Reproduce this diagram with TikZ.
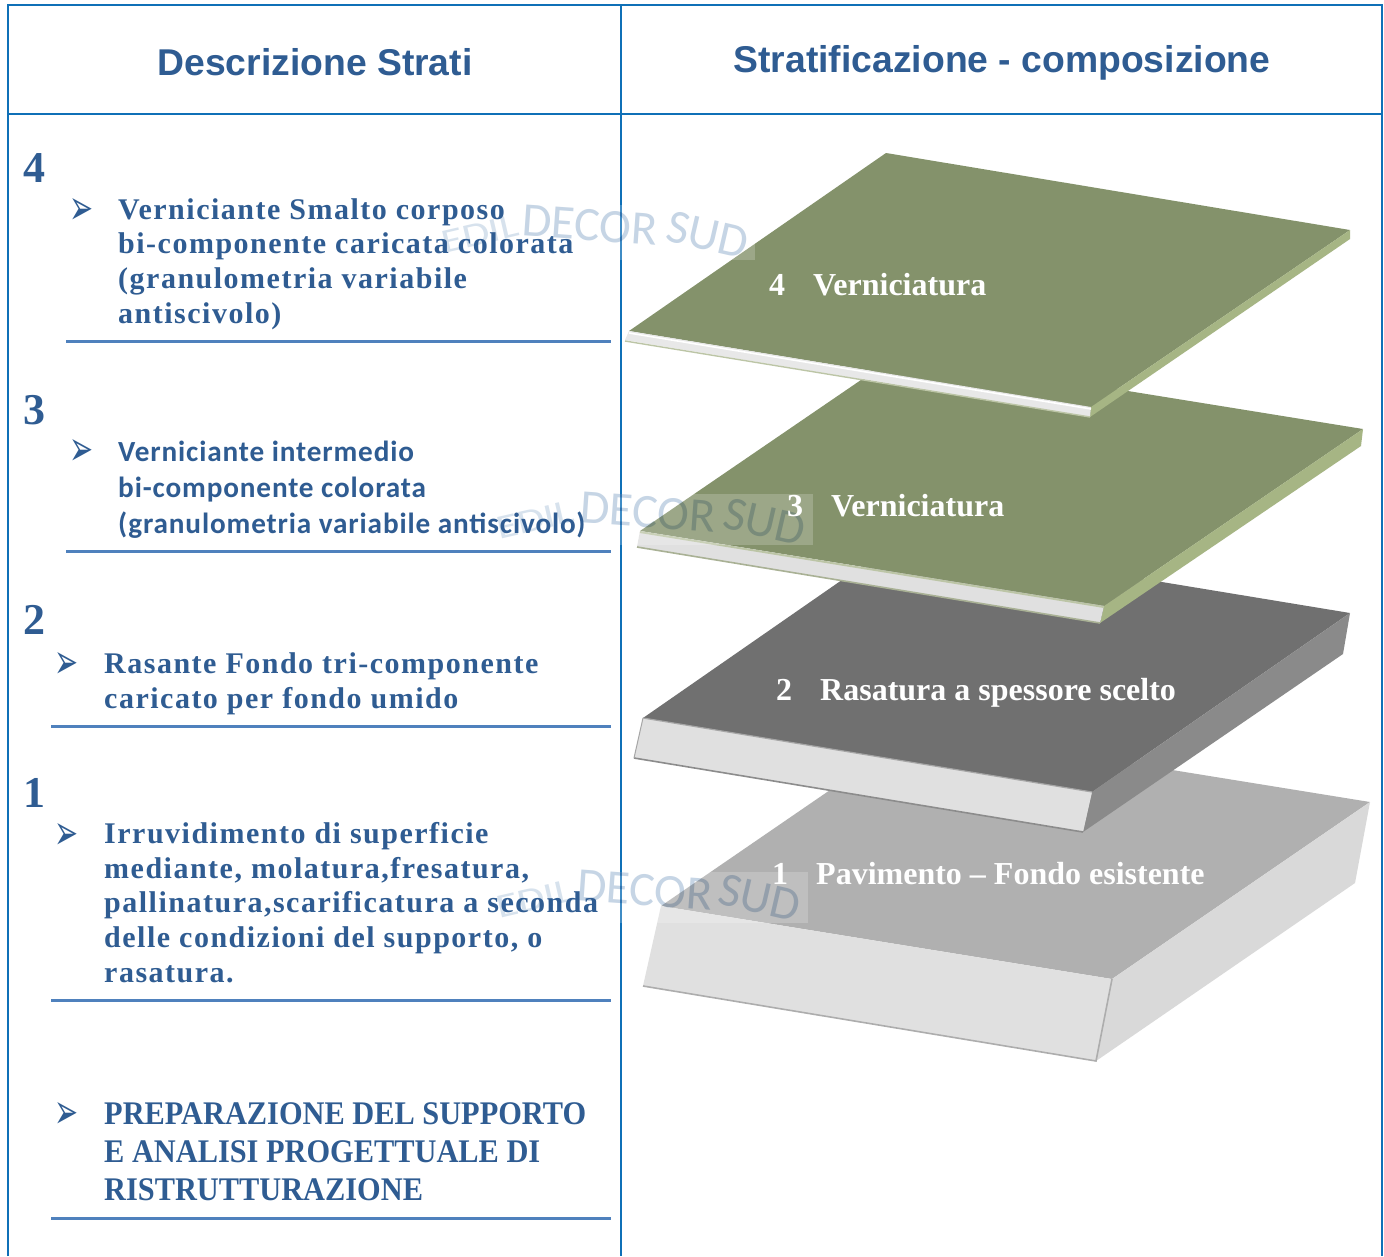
\documentclass[tikz,border=0pt]{standalone}
\usepackage{fontspec}
\setmainfont{Liberation Serif}
\newfontfamily\headfont{Liberation Sans}
\newfontfamily\bodyfont{Liberation Serif}[LetterSpace=5.0]
\newfontfamily\capsfont{Liberation Serif}[FakeStretch=0.92]
\newfontfamily\calfont{Carlito}[LetterSpace=3.0]
\newfontfamily\wmfont{Carlito}
\newfontfamily\dingfont{DejaVu Sans}
\definecolor{tableblue}{HTML}{0F70B7}
\definecolor{rulecol}{HTML}{4F81BD}
\definecolor{txtblue}{HTML}{2F5C92}
\definecolor{greentop}{HTML}{84926B}
\definecolor{greenside}{HTML}{A6B584}
\definecolor{greenedge}{HTML}{BCC5A6}
\definecolor{pale}{HTML}{E0E0E0}
\definecolor{wmcol}{HTML}{C6D5E5}
\newcommand{\arrowbul}{\scalebox{1.15}[1.95]{➢}}
\tikzset{
  tline/.style={draw=tableblue,line width=2pt},
  srule/.style={draw=rulecol,line width=3pt},
  head/.style={text=txtblue,inner sep=0pt,font=\headfont\bfseries\fontsize{37.3}{40}\selectfont},
  num/.style={text=txtblue,inner sep=0pt,anchor=base west,font=\bfseries\fontsize{44}{44}\selectfont},
  para/.style={text=txtblue,inner sep=0pt,anchor=base west,align=left,font=\bodyfont\bfseries\fontsize{30}{34.6}\selectfont},
  parac/.style={text=txtblue,inner sep=0pt,anchor=base west,align=left,font=\calfont\bfseries\fontsize{29.2}{36}\selectfont},
  parab/.style={text=txtblue,inner sep=0pt,anchor=base west,align=left,font=\capsfont\bfseries\fontsize{33}{38}\selectfont},
  bul/.style={text=txtblue,inner sep=0pt,anchor=base west,font=\dingfont\fontsize{25}{25}\selectfont},
  lab/.style={text=white,inner sep=0pt,anchor=base west,font=\bfseries\fontsize{32}{32}\selectfont},
  wmword/.style={text=wmcol,inner sep=0pt,font=\wmfont\fontsize{48}{48}\selectfont},
  wmedil/.style={text=wmcol!70,inner sep=0pt,rotate=13,font=\wmfont\fontsize{34}{34}\selectfont},
  patch/.style={fill=white,fill opacity=.2,draw=none},
}
\begin{document}
\begin{tikzpicture}[x=1pt,y=-1pt]
\useasboundingbox (0,0) rectangle (1384,1256);
\fill[white] (0,0) rectangle (1384,1256);
% plate 1
\fill[fill=black!31] (661,906) -- (919,729) -- (1370,802) -- (1112,979) -- cycle;
\fill[fill=pale!97!black] (1112,979) -- (1370,802) -- (1355,883) -- (1096,1061) -- cycle;
\fill[fill=pale] (661,906) -- (1112,979) -- (1096,1061) -- (643,986) -- cycle;
\draw[black!32,line width=1.6pt] (643,986) -- (1096,1061) -- (1112,979);
% plate 2
\fill[fill=black!56] (643,718) -- (901,539) -- (1350,613) -- (1092,792) -- cycle;
\fill[fill=black!46] (1092,792) -- (1350,613) -- (1343,654) -- (1083,832) -- cycle;
\fill[fill=pale] (643,718) -- (1092,792) -- (1083,832) -- (634,758) -- cycle;
\draw[black!45,line width=1.6pt] (634,758) -- (1083,832);
\draw[black!35,line width=1.2pt] (643,718) -- (1092,792);
\draw[black!35,line width=1pt] (643,718) -- (634,758);
% plate 3
\fill[fill=greentop] (640,531) -- (899,354) -- (1363,429) -- (1104,606) -- cycle;
\fill[fill=greenside] (1104,606) -- (1363,429) -- (1361,446) -- (1100,623) -- cycle;
\fill[fill=pale] (640,531) -- (1104,606) -- (1100,623) -- (637,547) -- cycle;
\draw[greenedge,line width=2pt] (640,532) -- (1104,607);
\draw[black!10!greenedge,line width=1.6pt] (637,547) -- (1100,623);
% plate 4
\fill[fill=greentop] (629,331) -- (886,153) -- (1350,230) -- (1091,407) -- cycle;
\fill[fill=greenside] (1091,407) -- (1350,230) -- (1350,239) -- (1090,417) -- cycle;
\fill[fill=black!9] (629,331) -- (1091,407) -- (1090,417) -- (625,340) -- cycle;
\draw[white,line width=1.6pt] (629,333) -- (1091,409);
\draw[greenedge,line width=1.4pt] (625,341) -- (1090,417);
% table
\draw[tline] (8,1256) -- (8,5) -- (1382,5) -- (1382,1256);
\draw[tline] (621,5) -- (621,1256);
\draw[tline] (8,114) -- (1382,114);
% watermarks
\fill[patch] (442,205) rectangle (755,260);
\fill[patch] (497,494) rectangle (813,545);
\fill[patch] (487,872) rectangle (808,923);
\begin{scope}[blend mode=multiply]
\node[wmedil] (wmA1) at (480,234) {\scalebox{1.3}[1]{EDIL}};
\node[wmword,rotate=-4] (wmA2) at (590,225) {DECOR};
\node[wmword,rotate=-13] (wmA3) at (708,235) {SUD};
\node[wmedil] (wmB1) at (535,520) {\scalebox{1.3}[1]{EDIL}};
\node[wmword,rotate=-4] (wmB2) at (648,512) {DECOR};
\node[wmword,rotate=-13] (wmB3) at (765,522) {SUD};
\node[wmedil] (wmC1) at (535,899) {\scalebox{1.3}[1]{EDIL}};
\node[wmword,rotate=-4] (wmC2) at (645,890) {DECOR};
\node[wmword,rotate=-13] (wmC3) at (760,898) {SUD};
\end{scope}
% headings
\node[head] (hA) at (315,62) {Descrizione Strati};
\node[head] (hB) at (1002,62.5) {Stratificazione - composizione};
% plate labels
\node[lab] (l4n) at (769,295) {4};
\node[lab] (l4) at (813,295) {Verniciatura};
\node[lab] (l3n) at (787,516) {3};
\node[lab] (l3) at (831,516) {Verniciatura};
\node[lab] (l2n) at (776,700) {2};
\node[lab] (l2) at (820,700) {Rasatura a spessore scelto};
\node[lab] (l1n) at (772,884) {1};
\node[lab] (l1) at (816,884) {Pavimento -- Fondo esistente};
% left column
\node[num] (n4) at (23,182) {4};
\node[bul] (b4) at (69,224) {\arrowbul};
\node[para] (p4) at (118,323) {Verniciante Smalto corposo\\bi-componente caricata colorata\\(granulometria variabile\\antiscivolo)};
\draw[srule] (66,341) -- (611,341);
\node[num] (n3) at (23,424) {3};
\node[bul] (b3) at (69,465) {\arrowbul};
\node[parac] (p3) at (118,533) {Verniciante intermedio\\bi-componente colorata\\(granulometria variabile antiscivolo)};
\draw[srule] (66,551) -- (611,551);
\node[num] (n2) at (23,634) {2};
\node[bul] (b2) at (54,678) {\arrowbul};
\node[para] (p2) at (104,708) {Rasante Fondo tri-componente\\caricato per fondo umido};
\draw[srule] (51,726) -- (611,726);
\node[num] (n1) at (23,807) {1};
\node[bul] (b1) at (54,849) {\arrowbul};
\node[para] (p1) at (104,982) {Irruvidimento di superficie\\mediante, molatura,fresatura,\\pallinatura,scarificatura a seconda\\delle condizioni del supporto, o\\rasatura.};
\draw[srule] (51,1000) -- (611,1000);
\node[bul] (b0) at (54,1128) {\arrowbul};
\node[parab] (p0) at (104,1200) {PREPARAZIONE DEL SUPPORTO\\E ANALISI PROGETTUALE DI\\RISTRUTTURAZIONE};
\draw[srule] (51,1218) -- (611,1218);
\end{tikzpicture}
\end{document}
